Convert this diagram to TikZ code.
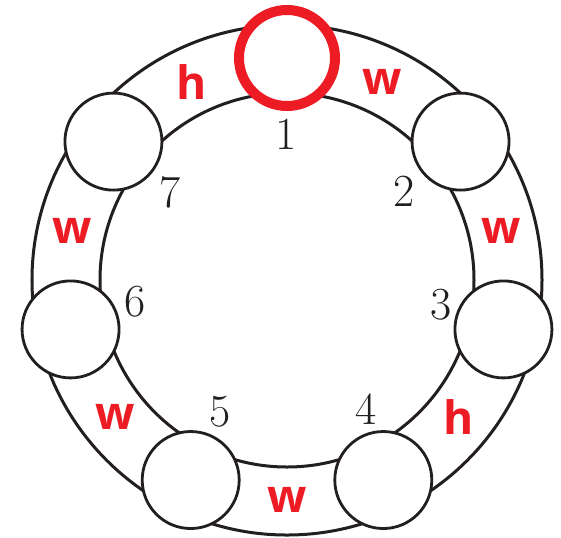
\documentclass[tikz,border=0pt]{standalone}
\usepackage{fontspec}
\newfontfamily\tagfont{Open Sans}
\definecolor{seatred}{HTML}{ED1C24}
\definecolor{ink}{HTML}{231F20}
\tikzstyle{ring} = [draw=ink, line width=1.5pt]
\tikzstyle{seat} = [circle, draw=ink, line width=1.4pt, fill=white, minimum size=48.5pt, inner sep=0pt]
\tikzstyle{host} = [circle, draw=seatred, line width=5pt, fill=white, minimum size=48pt, inner sep=0pt]
\tikzstyle{num} = [text=ink, font=\fontsize{23}{26}\selectfont, inner sep=0pt]
\tikzstyle{tag} = [text=seatred, font=\tagfont\bfseries\fontsize{23}{26}\selectfont, inner sep=0pt]

\begin{document}
\begin{tikzpicture}[x=0.5pt, y=0.5pt]
    \useasboundingbox (-287,-257) rectangle (274,280);
    \coordinate (c) at (0,0);
    % the table
    \draw[ring] (c) circle (127.5pt);
    \draw[ring] (c) circle (93.5pt);
    % seats
    \node (s1)[host] at (90:222) {};
    \node (s2)[seat] at (38.57:222) {};
    \node (s3)[seat] at (-12.86:222) {};
    \node (s4)[seat] at (-64.29:222) {};
    \node (s5)[seat] at (-115.71:222) {};
    \node (s6)[seat] at (-167.14:222) {};
    \node (s7)[seat] at (141.43:222) {};
    % seat numbers
    \node (n1)[num] at (-1,145.5) {1};
    \node (n2)[num] at (117,88.5) {2};
    \node (n3)[num] at (154,-25) {3};
    \node (n4)[num] at (79,-129) {4};
    \node (n5)[num] at (-67,-132) {5};
    \node (n6)[num] at (-152,-22) {6};
    \node (n7)[num] at (-117,88) {7};
    % gaps between seats
    \node (t12)[tag] at (64.29:220) {w};
    \node (t23)[tag] at (12.86:220) {w};
    \node (t34)[tag] at (-38.57:220) {h};
    \node (t45)[tag] at (-90:220) {w};
    \node (t56)[tag] at (-141.43:220) {w};
    \node (t67)[tag] at (167.14:220) {w};
    \node (t71)[tag] at (115.71:220) {h};
\end{tikzpicture}
\end{document}
